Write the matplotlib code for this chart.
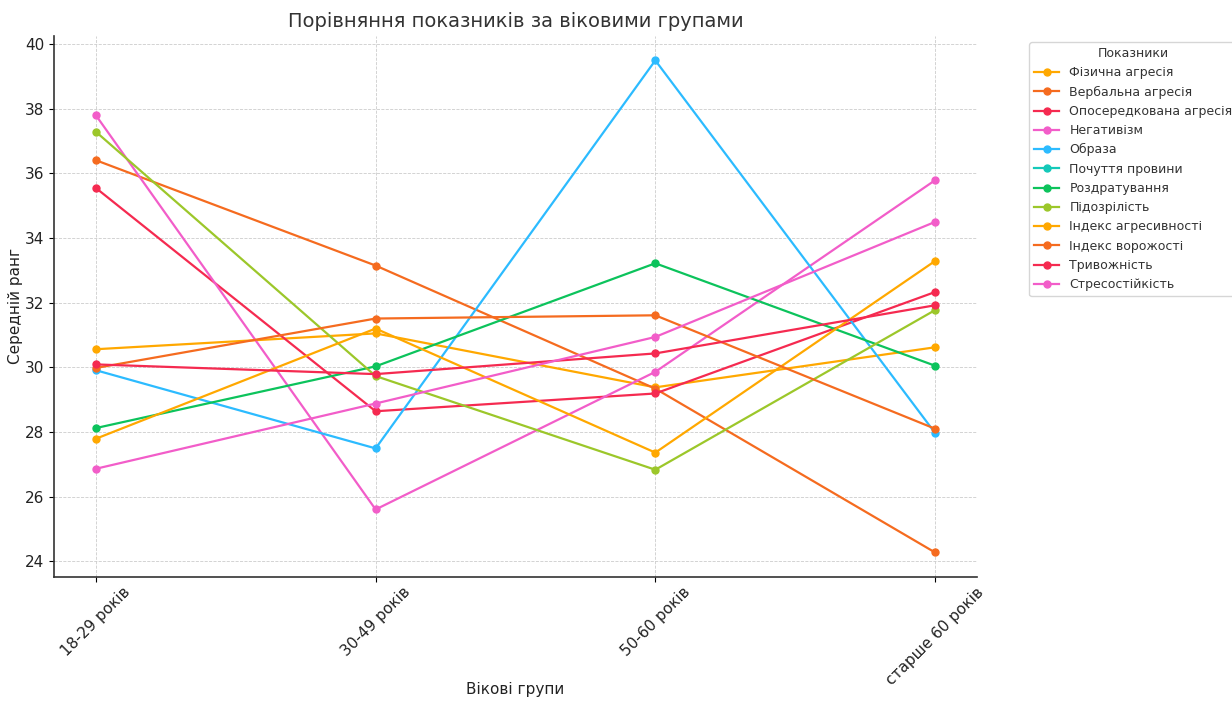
import matplotlib
matplotlib.use("Agg")
import matplotlib.pyplot as plt
import numpy as np


# Age groups on the x axis
age_groups = ["18-29 років", "30-49 років", "50-60 років", "старше 60 років"]

# Series names (legend order)
indicator_names = [
    "Фізична агресія",
    "Вербальна агресія",
    "Опосередкована агресія",
    "Негативізм",
    "Образа",
    "Почуття провини",
    "Роздратування",
    "Підозрілість",
    "Індекс агресивності",
    "Індекс ворожості",
    "Тривожність",
    "Стресостійкість",
]

# Mean ranks (one list per indicator)
physical_aggression = [30.56, 31.05, 29.38, 30.62]
verbal_aggression = [36.41, 33.15, 29.34, 24.27]
indirect_aggression = [35.55, 28.64, 29.19, 32.33]
negativism = [37.80, 25.60, 29.86, 35.79]
resentment = [29.91, 27.49, 39.50, 27.97]
guilt = [np.nan, np.nan, np.nan, np.nan]  # not visible on the chart
irritation = [28.12, 30.03, 33.22, 30.05]
suspicion = [37.29, 29.73, 26.83, 31.77]
aggression_index = [27.79, 31.20, 27.36, 33.29]
hostility_index = [29.98, 31.51, 31.61, 28.10]
anxiety = [30.09, 29.79, 30.43, 31.92]
stress_resistance = [26.86, 28.88, 30.94, 34.50]

series = [
    physical_aggression, verbal_aggression, indirect_aggression, negativism,
    resentment, guilt, irritation, suspicion,
    aggression_index, hostility_index, anxiety, stress_resistance,
]

# Colour cycle of the original chart (8 colours, then it repeats)
palette = ["#FFA800", "#F56B1F", "#F52A50", "#F25DC9",
           "#2CBBFF", "#14C9B9", "#0CC35C", "#9CC72A"]


def draw_chart():
    fig = plt.figure(figsize=(12.32, 7.02), dpi=100)
    ax = fig.add_axes([0.0438, 0.178, 0.7492, 0.771])

    x = np.arange(len(age_groups))
    for i, (name, values) in enumerate(zip(indicator_names, series)):
        ax.plot(x, values, marker="o", markersize=5, linewidth=1.6,
                color=palette[i % len(palette)], label=name)

    ax.set_xticks(x)
    ax.set_xticklabels(age_groups, rotation=45, fontsize=11, color="#222222")
    ax.tick_params(axis="x", pad=2)
    ax.tick_params(axis="y", labelsize=11, labelcolor="#222222")
    ax.set_yticks(np.arange(24, 41, 2))

    ax.set_title("Порівняння показників за віковими групами", fontsize=14, color="#333333")
    ax.set_xlabel("Вікові групи", fontsize=11, color="#222222", labelpad=-4)
    ax.set_ylabel("Середній ранг", fontsize=11, color="#222222", labelpad=1)

    # Light dashed grid, only left and bottom spines
    ax.grid(True, linestyle="--", linewidth=0.6, color="#cccccc")
    ax.set_axisbelow(True)
    for side in ["top", "right"]:
        ax.spines[side].set_visible(False)
    for side in ["left", "bottom"]:
        ax.spines[side].set_linewidth(1.2)
        ax.spines[side].set_color("#333333")

    leg = ax.legend(title="Показники", loc="upper left", bbox_to_anchor=(1.05, 1),
                    fontsize=9, title_fontsize=9, frameon=True)
    leg.get_title().set_color("#333333")
    for text in leg.get_texts():
        text.set_color("#333333")

    fig.savefig("out.png", dpi=100)


if __name__ == "__main__":
    draw_chart()
